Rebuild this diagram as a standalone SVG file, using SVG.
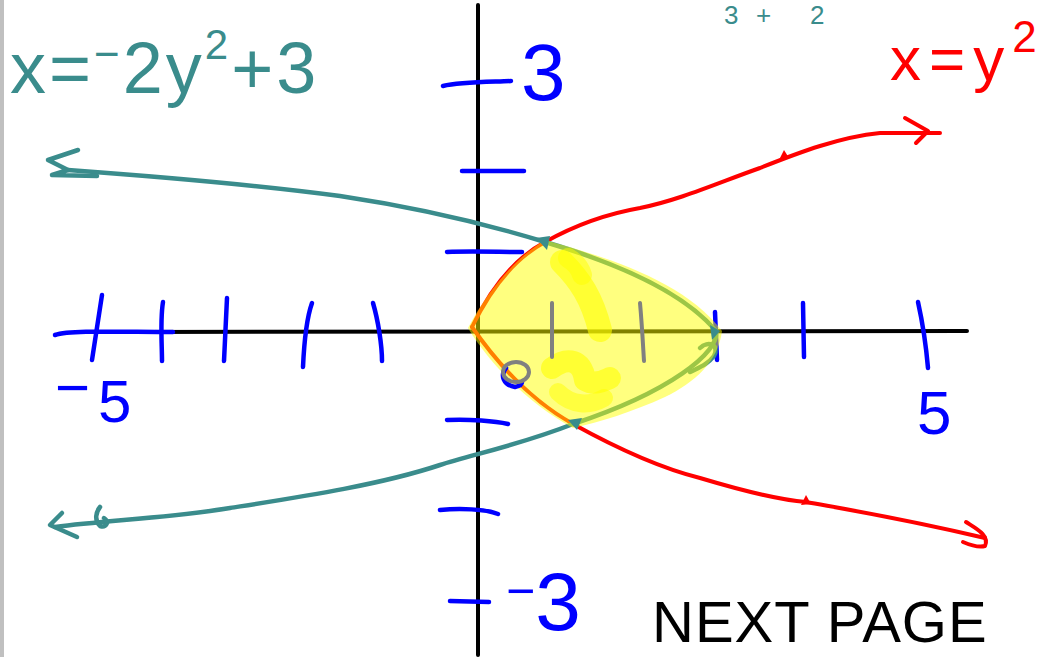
<svg xmlns="http://www.w3.org/2000/svg" width="1051" height="657" viewBox="0 0 1051 657">
<style>
.ax{stroke:#000;stroke-width:4;fill:none;stroke-linecap:round}
.bl{stroke:#0000ff;stroke-width:4.5;fill:none;stroke-linecap:round;stroke-linejoin:round}
.tl{stroke:#3a8c8c;stroke-width:4.5;fill:none;stroke-linecap:round;stroke-linejoin:round}
.rd{stroke:#ff0000;stroke-width:4;fill:none;stroke-linecap:round;stroke-linejoin:round}
.gr{stroke:#808080;stroke-width:4;fill:none;stroke-linecap:round}
.hl{stroke:#ffff00;fill:none;stroke-linecap:round;stroke-linejoin:round}
.hand{font-family:"Liberation Sans","DejaVu Sans",sans-serif}
.tt{fill:#3a8c8c}
.rt{fill:#ff0000}
.bt{fill:#0000ff}
</style>
<rect x="0" y="0" width="1051" height="657" fill="#ffffff"/>
<rect x="0" y="0" width="4" height="657" fill="#c0c0c0"/>

<g id="axes">
<path class="ax" d="M478,5 L478,655"/>
<path class="ax" d="M143,332 L967,331"/>
<path class="bl" d="M55,335 C70,330 120,332 173,332"/>
</g>

<g id="ticks">
<path class="bl" d="M102,295 L92,360"/>
<path class="bl" d="M163,302 C160,320 162,345 162,361"/>
<path class="bl" d="M227,298 L224,361"/>
<path class="bl" d="M312,303 C306,320 304,345 303,367"/>
<path class="bl" d="M373,303 C378,320 382,345 382,361"/>
<path class="bl" d="M715,312 L717,360"/>
<path class="bl" d="M803,303 L804,357"/>
<path class="bl" d="M918,302 C922,320 926,345 928,368"/>
<path class="bl" d="M443,86 C460,82 490,82 511,81"/>
<path class="bl" d="M462,171 L524,171"/>
<path class="bl" d="M447,252 C470,251 500,252 522,252"/>
<path class="bl" d="M447,420 C470,419 495,421 508,424"/>
<path class="bl" d="M440,510 C460,508 485,509 498,514"/>
<path class="bl" d="M450,601 L489,602"/>
</g>

<g id="curves">
<path class="rd" d="M472,327 C490,290 515,258 545,242 C570,228 600,215 640,208 C680,200 720,182 760,168 C800,152 840,137 880,133 L940,133"/>
<path class="rd" d="M905,118 L928,131 L916,143"/>
<path d="M779,160 L784,150 L789,158 Z" fill="#ff0000"/>
<path class="rd" d="M472,327 C495,360 530,400 573,424 C620,450 660,468 700,478 C740,490 780,500 806,502 C850,510 900,518 985,538"/>
<path class="rd" d="M966,522 C975,528 990,535 985,546 C978,548 970,545 963,542"/>
<path d="M801,505 L806,495 L811,504 Z" fill="#ff0000"/>

<path class="tl" d="M716,331 C690,300 640,270 545,242 C480,222 420,208 340,196 C250,184 150,176 68,170"/>
<path class="tl" d="M78,150 L48,160 L68,170 L52,175 L97,176"/>
<path class="tl" d="M716,331 C720,352 670,392 573,424 C520,445 470,455 440,465 C380,485 300,497 230,508 C170,518 110,520 55,527"/>
<path class="tl" d="M62,513 L50,525 L77,537"/>
<path class="tl" d="M100,507 C96,512 94,520 100,526 C106,528 110,522 104,518"/>
<path class="tl" d="M700,348 C708,340 720,345 714,356 C708,364 700,367 690,372"/>
</g>

<g id="highlight">
<path d="M468,328 C488,290 515,258 545,240 C610,258 685,282 722,331 C718,362 695,382 665,397 C632,412 600,422 573,428 C535,407 495,372 468,328 Z" fill="#ffff00" fill-opacity="0.5"/>
<path class="hl" d="M562,262 C580,280 592,298 600,330" stroke-opacity="0.6" stroke-width="24"/>
<path class="hl" d="M568,258 C575,262 580,268 582,275" stroke-opacity="0.5" stroke-width="20"/>
<path class="hl" d="M552,368 C568,356 582,360 585,380 C595,386 605,380 610,378" stroke-opacity="0.6" stroke-width="22"/>
<path class="hl" d="M558,392 C572,406 590,406 604,398" stroke-opacity="0.5" stroke-width="18"/>
</g>

<g id="markers">
<path class="gr" d="M552,303 L552,357"/>
<path class="gr" d="M640,303 C642,325 643,345 644,361"/>
<path class="bl" d="M506,368 C500,375 503,385 515,387 C520,386 522,384 522,382"/>
<ellipse cx="516" cy="372" rx="13" ry="10" class="gr" stroke-width="3.5"/>
<path d="M536,238 L550,236 L547,250 Z" fill="#3a8c8c"/>
<path d="M568,420 L582,418 L577,430 Z" fill="#3a8c8c"/>
<path d="M710,325 L720,331 L712,340 Z" fill="#3a8c8c"/>
</g>

<g id="labels">
<text class="hand tt" x="10" y="93" font-size="72" letter-spacing="3">x=<tspan font-size="44" dy="-24">−</tspan><tspan dy="24">2y</tspan><tspan font-size="42" dy="-34">2</tspan><tspan dy="34">+3</tspan></text>
<text class="hand tt" x="724 756 810" y="24" font-size="26">3+2</text>
<text class="hand rt" x="890" y="80" font-size="62" letter-spacing="8">x=y<tspan font-size="44" dy="-28">2</tspan></text>
<text class="hand bt" x="521" y="100" font-size="80">3</text>
<text class="hand bt" x="506" y="630" font-size="82"><tspan dy="-22" font-size="50">−</tspan><tspan dy="22">3</tspan></text>
<text class="hand bt" x="55" y="422" font-size="60" letter-spacing="8"><tspan dy="-14">−</tspan><tspan dy="14">5</tspan></text>
<text class="hand bt" x="917" y="434" font-size="62">5</text>
<text class="hand" x="652" y="642" font-size="58" letter-spacing="1" fill="#000">NEXT PAGE</text>
</g>
</svg>
